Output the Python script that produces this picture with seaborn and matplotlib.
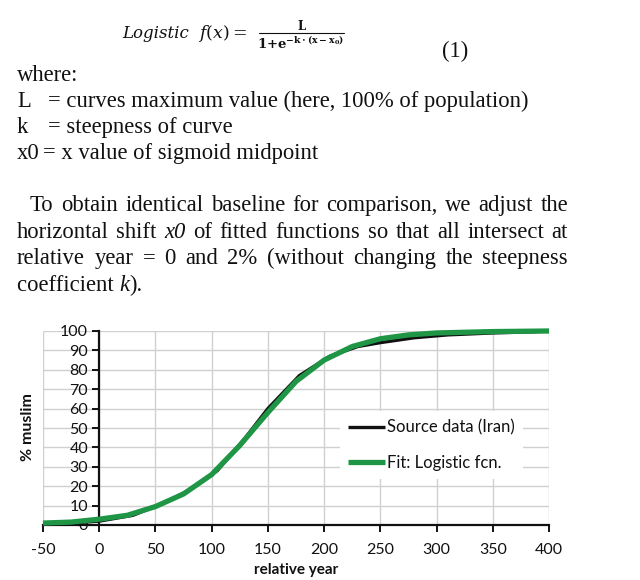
import matplotlib
matplotlib.use("Agg")
import matplotlib.pyplot as plt
from matplotlib.lines import Line2D
import seaborn as sns
import pandas as pd

# ---------------- data ----------------
src_year = [-50, -25, 0, 30, 60, 80, 105, 130, 150, 178, 205, 230, 250, 280, 310, 350, 380, 400]
src_pct = [1, 1, 2, 5, 12, 18, 28, 45, 60, 77, 87, 92, 94, 96.5, 98, 99, 99.5, 100]
fit_year = [-50, -25, 0, 25, 50, 75, 100, 125, 150, 175, 200, 225, 250, 275, 300, 350, 400]
fit_pct = [1, 1.5, 3, 5, 9.5, 16, 26, 41, 58, 74, 85, 92, 96, 98, 99, 99.7, 100]
series_names = ["Source data (Iran)", "Fit: Logistic fcn."]
x_ticks = [-50, 0, 50, 100, 150, 200, 250, 300, 350, 400]
y_ticks = [0, 10, 20, 30, 40, 50, 60, 70, 80, 90, 100]

sns.set_style("whitegrid")
plt.rcParams["font.family"] = ["Lato", "DejaVu Sans"]

W, H = 640, 580
fig = plt.figure(figsize=(W / 100, H / 100), dpi=100)
fig.patch.set_facecolor("white")


def fx(x):
    return x / W


def fy(y):
    return 1 - y / H


SERIF = ["Liberation Serif", "DejaVu Serif"]
TS = 16.3
INK = "#111111"

# ---------------- formula ----------------
fig.text(fx(122), fy(38), "Logistic", family=["DejaVu Serif"], style="italic",
         fontsize=12, va="baseline", ha="left", color=INK)
fig.text(fx(247), fy(38), r"$f(x) =$", fontsize=12.5, va="baseline", ha="right",
         math_fontfamily="dejavuserif", color=INK)
fig.text(fx(302), fy(26), "L", family=["DejaVu Serif"], weight="bold", fontsize=8.5,
         ha="center", va="center", color=INK)
fig.add_artist(Line2D([fx(259), fx(344)], [fy(33), fy(33)], color=INK, lw=0.8))
fig.text(fx(301), fy(43), r"$\mathbf{1{+}e^{-k\cdot(x-x_0)}}$", fontsize=9.5,
         ha="center", va="center", math_fontfamily="dejavuserif", color=INK)
fig.text(fx(442), fy(57), "(1)", family=SERIF, fontsize=TS, va="baseline", ha="left",
         color=INK)

# ---------------- definitions ----------------
fig.text(fx(17), fy(81), "where:", family=SERIF, fontsize=TS, va="baseline", color=INK)
defs = [("L", "= curves maximum value (here, 100% of population)", 107, 48),
        ("k", "= steepness of curve", 133, 48),
        ("x0", "= x value of sigmoid midpoint", 159, 43)]
for lab, txt, yb, xe in defs:
    fig.text(fx(17), fy(yb), lab, family=SERIF, fontsize=TS, va="baseline", color=INK)
    fig.text(fx(xe), fy(yb), txt, family=SERIF, fontsize=TS, va="baseline", color=INK)

# ---------------- justified paragraph ----------------
renderer = fig.canvas.get_renderer()
para = [
    ([("To", 0), ("obtain", 0), ("identical", 0), ("baseline", 0), ("for", 0),
      ("comparison,", 0), ("we", 0), ("adjust", 0), ("the", 0)], 30, 211),
    ([("horizontal", 0), ("shift", 0), ("x0", 1), ("of", 0), ("fitted", 0),
      ("functions", 0), ("so", 0), ("that", 0), ("all", 0), ("intersect", 0), ("at", 0)], 17, 238),
    ([("relative", 0), ("year", 0), ("=", 0), ("0", 0), ("and", 0), ("2%", 0),
      ("(without", 0), ("changing", 0), ("the", 0), ("steepness", 0)], 17, 264),
]
RIGHT = 568
for words, x0, yb in para:
    arts = []
    for w, it in words:
        t = fig.text(0, fy(yb), w, family=SERIF, fontsize=TS, va="baseline",
                     style="italic" if it else "normal", color=INK)
        arts.append(t)
    widths = [a.get_window_extent(renderer).width for a in arts]
    gap = (RIGHT - x0 - sum(widths)) / (len(arts) - 1)
    x = x0
    for a, wd in zip(arts, widths):
        a.set_x(fx(x))
        x += wd + gap

x = 17
for w, it in [("coefficient ", 0), ("k", 1), (").", 0)]:
    t = fig.text(fx(x), fy(291), w, family=SERIF, fontsize=TS, va="baseline",
                 style="italic" if it else "normal", color=INK)
    x += t.get_window_extent(renderer).width

# ---------------- chart ----------------
ax_left, ax_right, ax_top, ax_bottom = 43, 549, 331, 525
ax = fig.add_axes([fx(ax_left), fy(ax_bottom), (ax_right - ax_left) / W, (ax_bottom - ax_top) / H])

df_src = pd.DataFrame({"year": src_year, "pct": src_pct})
df_fit = pd.DataFrame({"year": fit_year, "pct": fit_pct})
sns.lineplot(data=df_src, x="year", y="pct", ax=ax, color=INK, lw=2.4,
             label=series_names[0], sort=False, zorder=3)
sns.lineplot(data=df_fit, x="year", y="pct", ax=ax, color="#1e9646", lw=3.8,
             label=series_names[1], sort=False, zorder=4)
for ln in ax.lines:
    ln.set_clip_on(False)
    ln.set_solid_capstyle("butt")

ax.set_xlim(-50, 400)
ax.set_ylim(0, 100)
ax.set_xticks(x_ticks)
ax.set_yticks(y_ticks)
ax.set_xticklabels([str(v) for v in x_ticks])
ax.set_yticklabels([str(v) for v in y_ticks])
ax.set_facecolor("white")
ax.grid(True, color="#d0d0d0", lw=1)
ax.set_axisbelow(True)

for s in ["top", "right"]:
    ax.spines[s].set_visible(False)
ax.spines["left"].set_position(("data", 0))
for s in ["left", "bottom"]:
    ax.spines[s].set_color(INK)
    ax.spines[s].set_linewidth(1.6)

ax.tick_params(axis="x", direction="out", length=5, width=1.4, color=INK,
               labelsize=11.5, labelcolor=INK, pad=8, bottom=True)
ax.tick_params(axis="y", direction="out", length=5, width=1.4, color=INK,
               labelsize=11.5, labelcolor=INK, pad=3, left=True)

ax.set_xlabel("relative year", fontsize=11, weight="bold", color=INK, labelpad=4)
ax.set_ylabel("")
fig.text(fx(28), fy(427), "% muslim", rotation=90, fontsize=11.5, weight="bold",
         ha="center", va="center", color=INK)

leg = ax.legend(loc="upper left", bbox_to_anchor=((340 - 43) / 506, (525 - 411) / 194),
                frameon=True, facecolor="white", edgecolor="none", framealpha=1,
                fontsize=12, handlelength=2.2, handletextpad=0.1, labelspacing=1.15,
                borderpad=0.5, borderaxespad=0)
for t in leg.get_texts():
    t.set_color(INK)

fig.savefig("out.png", dpi=100, facecolor="white")
